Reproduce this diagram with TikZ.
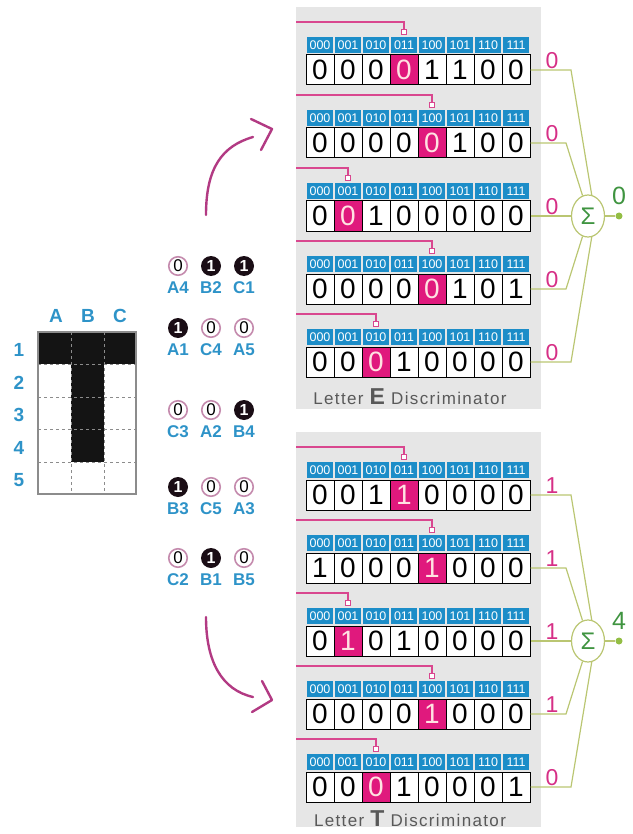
\documentclass[tikz,border=0pt]{standalone}
\usepackage{fontspec}
\setmainfont{Liberation Sans}
\usetikzlibrary{shapes.geometric}

\definecolor{labelblue}{HTML}{2E93C8}
\definecolor{headblue}{HTML}{1C8DC8}
\definecolor{addrpink}{HTML}{D9478F}
\definecolor{hitpink}{HTML}{E0197D}
\definecolor{outpink}{HTML}{D62F86}
\definecolor{arcpurple}{HTML}{B23A83}
\definecolor{wireolive}{HTML}{BAC672}
\definecolor{sumgreen}{HTML}{3F9440}
\definecolor{dotgreen}{HTML}{93BE45}
\definecolor{panelgray}{HTML}{E6E6E6}
\definecolor{ringpink}{HTML}{C48AAD}
\definecolor{inkblack}{HTML}{1A0D15}

\tikzset{
  hdr/.style={fill=headblue, text=white, minimum width=26.5pt, minimum height=16pt, inner sep=0pt, font=\fontsize{12.5}{12.5}\selectfont},
  val/.style={draw=black, line width=1pt, minimum width=28pt, minimum height=30pt, inner sep=0pt, font=\fontsize{28}{28}\selectfont},
  tap/.style={draw=addrpink, line width=1pt, fill=white, minimum size=5pt, inner sep=0pt},
  addr/.style={draw=addrpink, line width=1.2pt},
  wire/.style={draw=wireolive, line width=1.2pt},
  summer/.style={ellipse, draw=wireolive, line width=1.2pt, fill=white, minimum width=33pt, minimum height=42pt, inner sep=0pt, text=sumgreen, font=\fontsize{24}{24}\selectfont},
  outdig/.style={text=outpink, font=\fontsize{23}{23}\selectfont, inner sep=0pt},
  score/.style={text=sumgreen, font=\fontsize{25}{25}\selectfont, inner sep=0pt},
  outdot/.style={circle, fill=dotgreen, minimum size=7pt, inner sep=0pt},
  bit0/.style={circle, draw=ringpink, line width=1.6pt, fill=white, minimum size=18.5pt, inner sep=0pt, font=\fontsize{17}{17}\selectfont},
  bit1/.style={circle, fill=inkblack, text=white, minimum size=20pt, inner sep=0pt, font=\fontsize{16}{16}\selectfont\bfseries},
  tag/.style={text=labelblue, font=\fontsize{17}{17}\selectfont\bfseries, inner sep=0pt},
  swoop/.style={draw=arcpurple, line width=2.4pt, line cap=round, line join=round},
  caption/.style={text=black!65, font=\fontsize{17}{17}\selectfont\addfontfeature{LetterSpace=8}},
}

\begin{document}
\begin{tikzpicture}[x=1pt, y=-1pt]
\useasboundingbox (0,0) rectangle (632,834);

% Letter grid
\fill[black!92] (38,332) rectangle (136,364);
\fill[black!92] (71,364) rectangle (104,462);
\draw[black!45, dashed, line width=0.8pt] (71,332) -- (71,494) (104,332) -- (104,494);
\foreach \gy in {364,397,429,462}
  \draw[black!45, dashed, line width=0.8pt] (38,\gy) -- (136,\gy);
\draw[black!45, line width=1.5pt] (38,332) rectangle (136,494);
\foreach \t/\tx in {A/56,B/88,C/120}
  \node[tag, font=\fontsize{19}{19}\selectfont\bfseries] (col\t) at (\tx,316) {\t};
\foreach \t/\ty in {1/350,2/383,3/415,4/448,5/480}
  \node[tag, font=\fontsize{19}{19}\selectfont\bfseries] (row\t) at (19,\ty) {\t};

% Sampled bits
\foreach \cy/\trip [count=\q] in {266/{A4/0,B2/1,C1/1}, 328/{A1/1,C4/0,A5/0}, 410/{C3/0,A2/0,B4/1}, 487/{B3/1,C5/0,A3/0}, 558/{C2/0,B1/1,B5/0}}
  \foreach \lab/\bit [count=\k] in \trip {
    \node[bit\bit] (p\q\lab) at ({145+33*\k},\cy) {\bit};
    \node[tag] (t\q\lab) at ({145+33*\k},\cy+22) {\lab};
  }

% Arrows to discriminators
\draw[swoop] (206,215) .. controls (206,168) and (222,146) .. (253,137);
\draw[swoop] (251,119) -- (272,129) -- (261,150);
\draw[swoop] (206,617) .. controls (206,662) and (222,690) .. (253,697);
\draw[swoop] (262,681) -- (272,700) -- (252,712);

% Panels
\fill[panelgray] (296,7) rectangle (541,409);
\fill[panelgray] (296,432) rectangle (541,827);

% Letter E discriminator
\node[summer] (sumE) at (588,216) {Σ};
\node[outdot] (outE) at (619,216) {};
\draw[wire] (sumE) -- (outE);
\node[score] (scoreE) at (619,196) {0};
\foreach \ry/\ad/\vals/\out/\cx/\ang [count=\r] in {
  70/3/{0,0,0,0,1,1,0,0}/0/571/80,
  143/4/{0,0,0,0,0,1,0,0}/0/566/105,
  216/1/{0,0,1,0,0,0,0,0}/0/570/180,
  289/4/{0,0,0,0,0,1,0,1}/0/566/255,
  362/2/{0,0,0,1,0,0,0,0}/0/571/280}
{
  \foreach \h [count=\c from 0] in {000,001,010,011,100,101,110,111}
    \node[hdr] (E\r-h\c) at ({320+28*\c},\ry-25) {\h};
  \foreach \v [count=\c from 0] in \vals {
    \ifnum\c=\ad \def\cellbg{hitpink}\def\cellfg{pink!45}\else\def\cellbg{white}\def\cellfg{black}\fi
    \node[val, fill=\cellbg, text=\cellfg] (E\r-v\c) at ({320+28*\c},\ry) {\v};
  }
  \coordinate (E\r-in) at (296,\ry-48);
  \node[tap] (E\r-tap) at ({320+28*\ad},\ry-38) {};
  \draw[addr] (E\r-in) -| (E\r-tap);
  \node[outdig] (E\r-out) at (552,\ry-9) {\out};
  \draw[wire] (E\r-v7.east) -- (\cx,\ry) -- (sumE.\ang);
}
\node[caption] (capE) at (410,397) {Letter {\fontsize{23}{23}\selectfont\bfseries E} Discriminator};

% Letter T discriminator
\node[summer] (sumT) at (588,641) {Σ};
\node[outdot] (outT) at (619,641) {};
\draw[wire] (sumT) -- (outT);
\node[score] (scoreT) at (619,621) {4};
\foreach \ry/\ad/\vals/\out/\cx/\ang [count=\r] in {
  495/3/{0,0,1,1,0,0,0,0}/1/571/80,
  568/4/{1,0,0,0,1,0,0,0}/1/566/105,
  641/1/{0,1,0,1,0,0,0,0}/1/570/180,
  714/4/{0,0,0,0,1,0,0,0}/1/566/255,
  787/2/{0,0,0,1,0,0,0,1}/0/571/280}
{
  \foreach \h [count=\c from 0] in {000,001,010,011,100,101,110,111}
    \node[hdr] (T\r-h\c) at ({320+28*\c},\ry-25) {\h};
  \foreach \v [count=\c from 0] in \vals {
    \ifnum\c=\ad \def\cellbg{hitpink}\def\cellfg{pink!45}\else\def\cellbg{white}\def\cellfg{black}\fi
    \node[val, fill=\cellbg, text=\cellfg] (T\r-v\c) at ({320+28*\c},\ry) {\v};
  }
  \coordinate (T\r-in) at (296,\ry-48);
  \node[tap] (T\r-tap) at ({320+28*\ad},\ry-38) {};
  \draw[addr] (T\r-in) -| (T\r-tap);
  \node[outdig] (T\r-out) at (552,\ry-9) {\out};
  \draw[wire] (T\r-v7.east) -- (\cx,\ry) -- (sumT.\ang);
}
\node[caption] (capT) at (410,819) {Letter {\fontsize{23}{23}\selectfont\bfseries T} Discriminator};

\end{tikzpicture}
\end{document}
